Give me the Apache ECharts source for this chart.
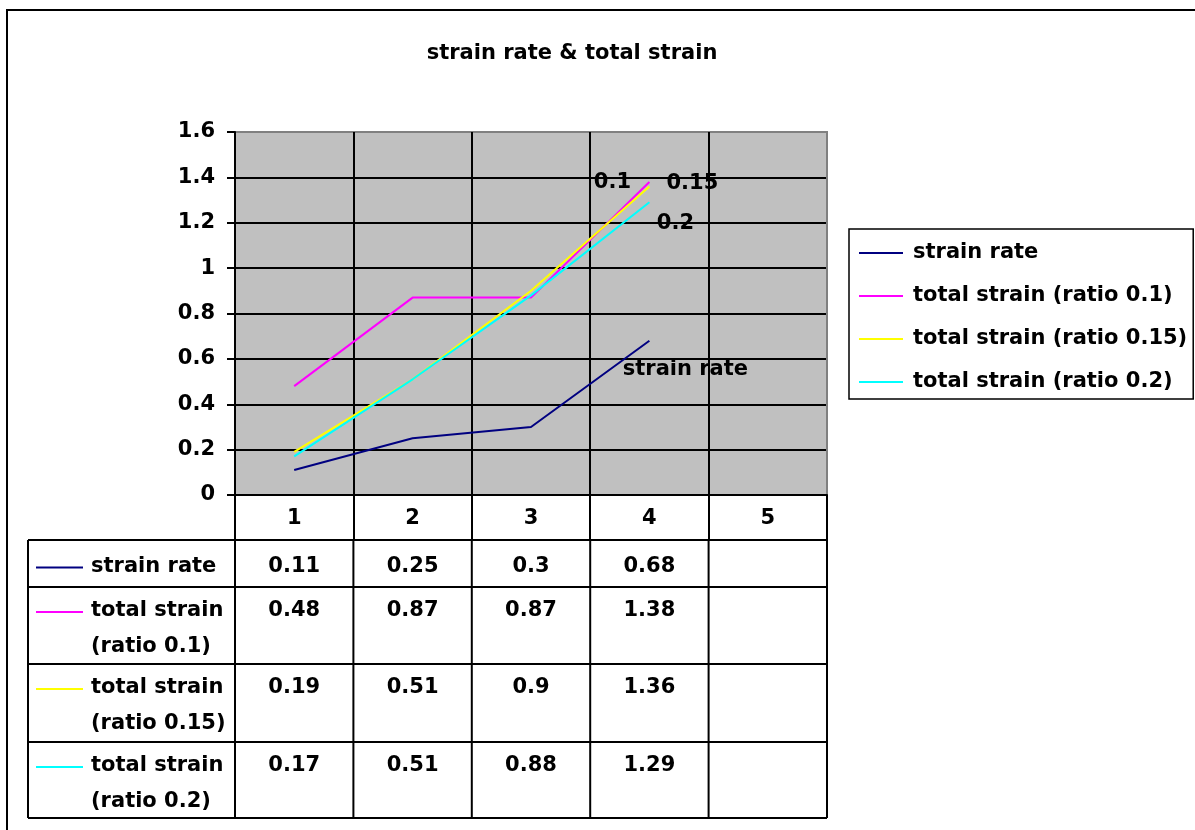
<!DOCTYPE html>
<html>
<head>
<meta charset="utf-8">
<script src="https://cdn.jsdelivr.net/npm/echarts@6/dist/echarts.min.js"></script>
<style>html,body{margin:0;padding:0;background:#fff;}#c{width:1195px;height:830px;}</style>
</head>
<body>
<div id="c"></div>
<script>
const title = 'strain rate & total strain';
const categories = ['1', '2', '3', '4', '5'];
const seriesNames = ['strain rate', 'total strain (ratio 0.1)', 'total strain (ratio 0.15)', 'total strain (ratio 0.2)'];
const strainRate = [0.11, 0.25, 0.3, 0.68, null];
const total01 = [0.48, 0.87, 0.87, 1.38, null];
const total015 = [0.19, 0.51, 0.9, 1.36, null];
const total02 = [0.17, 0.51, 0.88, 1.29, null];
const yTicks = [0, 0.2, 0.4, 0.6, 0.8, 1, 1.2, 1.4, 1.6];
const endLabels = ['strain rate', '0.1', '0.15', '0.2'];
const tableRowLabels = [['strain rate'], ['total strain', '(ratio 0.1)'], ['total strain', '(ratio 0.15)'], ['total strain', '(ratio 0.2)']];

const values = [strainRate, total01, total015, total02];
const colors = ['#000080', '#FF00FF', '#FFFF00', '#00FFFF'];
const FONT = '"DejaVu Sans"';
const FS = 21;
const labelOffsets = [[36, 29], [-37, 1], [43, -3], [26, 21]];

const chart = echarts.init(document.getElementById('c'), null, {renderer: 'canvas'});

const lineSeries = values.map((v, i) => ({
  name: seriesNames[i], type: 'line', data: v, symbol: 'none', showSymbol: false,
  lineStyle: {color: colors[i], width: 2}, itemStyle: {color: colors[i]},
  connectNulls: false, z: 3, animation: false
}));
const labelSeries = values.map((v, i) => {
  let last = 0; for (let k = 0; k < v.length; k++) if (v[k] != null) last = k;
  return {
    type: 'scatter', data: [[categories[last], v[last]]], symbolSize: 1,
    itemStyle: {color: 'rgba(0,0,0,0)', opacity: 1}, silent: true, z: 5, animation: false,
    label: {show: true, position: 'inside', offset: labelOffsets[i], formatter: endLabels[i],
      color: '#000', opacity: 1, textBorderWidth: 0, fontFamily: FONT, fontWeight: 'bold', fontSize: FS}
  };
});

const splitColorsY = yTicks.map((t, i) => i === yTicks.length - 1 ? '#808080' : '#000');
const splitColorsX = categories.concat(['']).map((t, i) => i === categories.length ? '#808080' : '#000');

chart.setOption({
  animation: false,
  backgroundColor: '#fff',
  title: {text: title, left: 567, top: 38, textAlign: 'center',
    textStyle: {fontFamily: FONT, fontWeight: 'bold', fontSize: FS, color: '#000'}},
  legend: {
    data: seriesNames, orient: 'vertical', left: 849, top: 229,
    icon: 'rect', itemWidth: 44, itemHeight: 2, itemGap: 21,
    padding: [13, 6, 6, 10], borderColor: '#000', borderWidth: 1.5, backgroundColor: '#fff',
    textStyle: {fontFamily: FONT, fontWeight: 'bold', fontSize: FS, color: '#000', lineHeight: 22, padding: [0, 0, 0, 5]}
  },
  grid: {left: 235, top: 132, right: 368, bottom: 335, show: true, backgroundColor: '#C0C0C0', borderColor: '#808080', borderWidth: 2},
  xAxis: {
    type: 'category', data: categories, boundaryGap: true,
    axisLine: {lineStyle: {color: '#000', width: 2}},
    axisTick: {show: true, length: 45, lineStyle: {color: '#000', width: 2}},
    splitLine: {show: true, lineStyle: {color: splitColorsX, width: 2}},
    axisLabel: {margin: 13, fontFamily: FONT, fontWeight: 'bold', fontSize: FS, color: '#000'}
  },
  yAxis: {
    type: 'value', min: 0, max: 1.6, interval: 0.2,
    axisLine: {show: true, lineStyle: {color: '#000', width: 2}},
    axisTick: {show: true, length: 8, lineStyle: {color: '#000', width: 2}},
    splitLine: {show: true, lineStyle: {color: splitColorsY, width: 2}},
    axisLabel: {margin: 20, fontFamily: FONT, fontWeight: 'bold', fontSize: FS, color: '#000',
      formatter: v => { const t = yTicks.find(x => Math.abs(x - v) < 1e-9); return t === undefined ? '' : String(t); }}
  },
  series: lineSeries.concat(labelSeries)
});

// Data table beneath, columns aligned via the category axis
const centers = categories.map((c, i) => chart.convertToPixel({xAxisIndex: 0}, i));
const bw = centers[1] - centers[0];
const bounds = [centers[0] - bw / 2].concat(centers.map(c => c + bw / 2));
const tableLeft = 28;
const rowTops = [540, 587, 664, 742, 818];
const tableRight = bounds[bounds.length - 1];
const g = [];
const stroke = {stroke: '#000', lineWidth: 2};
rowTops.forEach(y => g.push({type: 'line', shape: {x1: tableLeft, y1: y, x2: tableRight, y2: y}, style: stroke, silent: true}));
g.push({type: 'line', shape: {x1: tableLeft, y1: rowTops[0], x2: tableLeft, y2: rowTops[rowTops.length - 1]}, style: stroke, silent: true});
bounds.forEach(x => g.push({type: 'line', shape: {x1: x, y1: rowTops[0], x2: x, y2: rowTops[rowTops.length - 1]}, style: stroke, silent: true}));
const tFont = 'bold ' + FS + 'px ' + FONT;
values.forEach((arr, r) => {
  const top = rowTops[r];
  const single = tableRowLabels[r].length === 1;
  const cy = single ? (rowTops[r] + rowTops[r + 1]) / 2 + 3 : top + 24;
  g.push({type: 'line', shape: {x1: 36, y1: cy + 1, x2: 83, y2: cy + 1}, style: {stroke: colors[r], lineWidth: 2}, silent: true});
  tableRowLabels[r].forEach((t, k) => g.push({type: 'text', x: 91, y: cy + k * 36,
    style: {text: t, font: tFont, fill: '#000', align: 'left', verticalAlign: 'middle'}, silent: true}));
  arr.forEach((v, c) => {
    if (v == null) return;
    g.push({type: 'text', x: centers[c], y: cy, style: {text: String(v), font: tFont, fill: '#000', align: 'center', verticalAlign: 'middle'}, silent: true});
  });
});
g.push({type: 'rect', shape: {x: 7, y: 10, width: 1200, height: 840}, style: {fill: 'none', stroke: '#000', lineWidth: 2}, silent: true, z: 100});
chart.setOption({graphic: g});
</script>
</body>
</html>
